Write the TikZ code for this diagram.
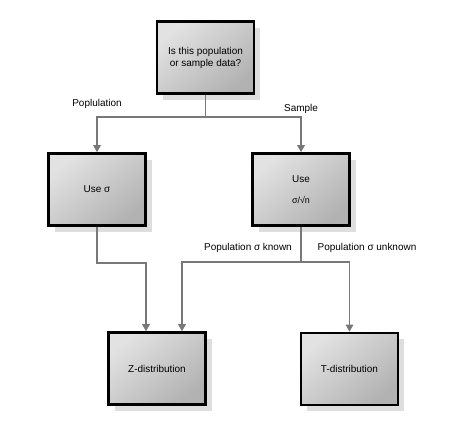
\documentclass[tikz,border=0pt]{standalone}
\usepackage{fontspec}
\setmainfont{Liberation Sans}
\usetikzlibrary{arrows.meta,positioning,shadows}
\definecolor{boxLight}{RGB}{226,226,226}
\definecolor{boxDark} {RGB}{178,178,178}
\definecolor{lineGray}{RGB}{120,120,120}
\definecolor{shadowGray}{RGB}{222,222,222}

\begin{document}
\begin{tikzpicture}[x=1bp,y=-1bp,
          box/.style={rectangle,draw=black,line width=2.6bp,
                      top color=boxLight,bottom color=boxDark,shading angle=40,
                      minimum width=97bp,minimum height=72bp,align=center,
                      font=\fontsize{10}{12}\selectfont,
                      drop shadow={shadow xshift=6bp,shadow yshift=-6bp,
                                   fill=shadowGray,opacity=1}},
          conn/.style={draw=lineGray,line width=1.4bp},
          arr/.style={conn,-{Triangle[width=7.5bp,length=7bp]}},
          lbl/.style={font=\fontsize{10}{12}\selectfont}]
          \useasboundingbox (0,0) rectangle (461,432);
          \node[box](q) at (205.5,57.5){Is this population\\or sample data?};
          \node[box](usesig) at (97,189.5){Use σ};
          \node[box](usesqrt) at (301,189.5){Use\\[9bp]\fontsize{9}{11}\selectfont σ/√n};
          \node[box](zdist) at (157,368.5){Z-distribution};
          \node[box](tdist) at (349.5,369){T-distribution};
          \coordinate (split1) at (205.5,117);
          \coordinate (bendA) at (146,263);
          \coordinate (split2) at (301,262);
          \coordinate (bendB) at (182,262);
          % first question
          \draw[conn] (q) -- (split1);
          \draw[arr] (split1) -| (usesig);
          \draw[arr] (split1) -| (usesqrt);
          \node[lbl](lpop) at (97,104){Poplulation};
          \node[lbl](lsam) at (301,109){Sample};
          % known or unknown sigma
          \draw[arr] (usesig) |- (bendA) -- (bendA |- zdist.north);
          \draw[conn] (usesqrt) -- (split2);
          \draw[arr] (split2) -- (bendB) -- (bendB |- zdist.north);
          \draw[arr] (split2) -| (tdist);
          \node[lbl](lknown) at (248,248){Population σ known};
          \node[lbl](lunknown) at (367,248){Population σ unknown};
        \end{tikzpicture}
\end{document}
